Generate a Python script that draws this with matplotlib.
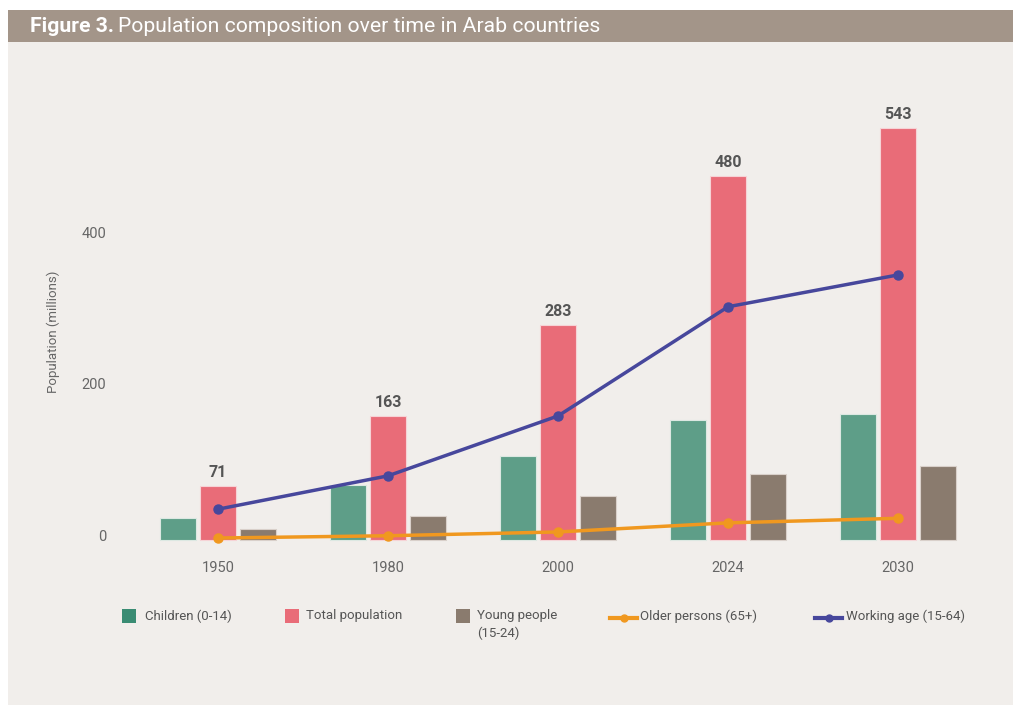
import matplotlib
matplotlib.use("Agg")
import matplotlib.pyplot as plt
from matplotlib.patches import Rectangle
from matplotlib.lines import Line2D
import matplotlib.transforms as mtransforms
import numpy as np

# Data (millions)
years = ["1950", "1980", "2000", "2024", "2030"]
children = [29, 72, 110, 158, 165]
total = [71, 163, 283, 480, 543]
young = [14, 31, 57, 86, 97]
older = [2, 5, 10, 22, 28]
working = [40, 84, 163, 307, 349]
yticks = [0, 200, 400]

C_CHILD = "#5E9E88"
C_TOTAL = "#E96C78"
C_YOUNG = "#8A7B6E"
C_OLDER = "#F0981F"
C_WORK = "#47479C"
BG = "#F1EEEB"
TXT = "#666666"

plt.rcParams["font.family"] = ["Roboto", "DejaVu Sans"]

W, H = 1021, 708
fig = plt.figure(figsize=(W / 100, H / 100), dpi=100)
fig.patch.set_facecolor("white")

# Panel and title bar
fig.add_artist(Rectangle((8 / W, 1 - 705 / H), (1013 - 8) / W, (705 - 42) / H,
                         transform=fig.transFigure, facecolor=BG, edgecolor="none", zorder=0))
fig.add_artist(Rectangle((8 / W, 1 - 42 / H), (1013 - 8) / W, 32 / H,
                         transform=fig.transFigure, facecolor="#A39589", edgecolor="none", zorder=0))
t1 = fig.text(30 / W, 1 - 26 / H, "Figure 3.", color="white", fontsize=15.2,
              fontweight="bold", va="center", ha="left")
fig.canvas.draw()
bb = t1.get_window_extent()
fig.text((bb.x1 + 4) / W, 1 - 26 / H, "Population composition over time in Arab countries",
         color="white", fontsize=15.2, va="center", ha="left")

ax = fig.add_axes([120 / W, (H - 545.6) / H, 870 / W, (545.6 - 80) / H])
ax.set_facecolor("none")
for s in ax.spines.values():
    s.set_visible(False)

x = np.arange(len(years))
bw = 0.21
off = 0.235
ax.bar(x - off, children, bw, color=C_CHILD, edgecolor="#DCE8E2", linewidth=0.8, zorder=2)
ax.bar(x, total, bw, color=C_TOTAL, edgecolor="#F6D3D6", linewidth=0.8, zorder=2)
ax.bar(x + off, young, bw, color=C_YOUNG, edgecolor="#D9D0CA", linewidth=0.8, zorder=2)

ax.plot(x, older, color=C_OLDER, lw=2.5, marker="o", ms=6.5, zorder=3, clip_on=False)
ax.plot(x, working, color=C_WORK, lw=2.5, marker="o", ms=6.5, zorder=3, clip_on=False)

for xi, v in zip(x, total):
    ax.annotate(str(v), (xi, v), xytext=(0, 4), textcoords="offset points",
                ha="center", va="bottom", fontsize=11.5, fontweight="bold", color="#555555")

ax.set_xlim(-0.576, 4.54)
ax.set_ylim(-8, 606)
ax.set_xticks(x)
ax.set_xticklabels(years)
ax.set_yticks(yticks)
ax.tick_params(length=0, colors=TXT, labelsize=10.5)
ax.tick_params(axis="x", pad=11)
ax.tick_params(axis="y", pad=10)
shift = mtransforms.ScaledTranslation(0, 4 / 100, fig.dpi_scale_trans)
for lab in ax.get_yticklabels():
    lab.set_transform(lab.get_transform() + shift)

ax.set_ylabel("Population (millions)", color=TXT, fontsize=9.5)
ax.yaxis.set_label_coords(-0.069, 0.46)

# Legend
ly = 1 - 616 / H
def patch(xp, color):
    fig.add_artist(Rectangle((xp / W, ly - 7 / H), 14 / W, 14 / H, transform=fig.transFigure,
                             facecolor=color, edgecolor="none"))
def line(xp, color):
    fig.add_artist(Line2D([xp / W, (xp + 27) / W], [ly - 2 / H, ly - 2 / H], transform=fig.transFigure,
                          color=color, lw=3))
    fig.add_artist(Line2D([(xp + 13.5) / W], [ly - 2 / H], transform=fig.transFigure,
                          color=color, marker="o", ms=5))
def label(xp, s, y=ly):
    fig.text(xp / W, y, s, fontsize=9.5, color="#555555", va="center", ha="left")

patch(122, "#3A8C73"); label(145, "Children (0-14)")
patch(285, C_TOTAL); label(306, "Total population")
patch(456, C_YOUNG); label(477, "Young people"); label(477, "(15-24)", ly - 17 / H)
line(610, C_OLDER); label(640, "Older persons (65+)")
line(815, C_WORK); label(846, "Working age (15-64)")

fig.savefig("out.png", dpi=100, facecolor=fig.get_facecolor())
